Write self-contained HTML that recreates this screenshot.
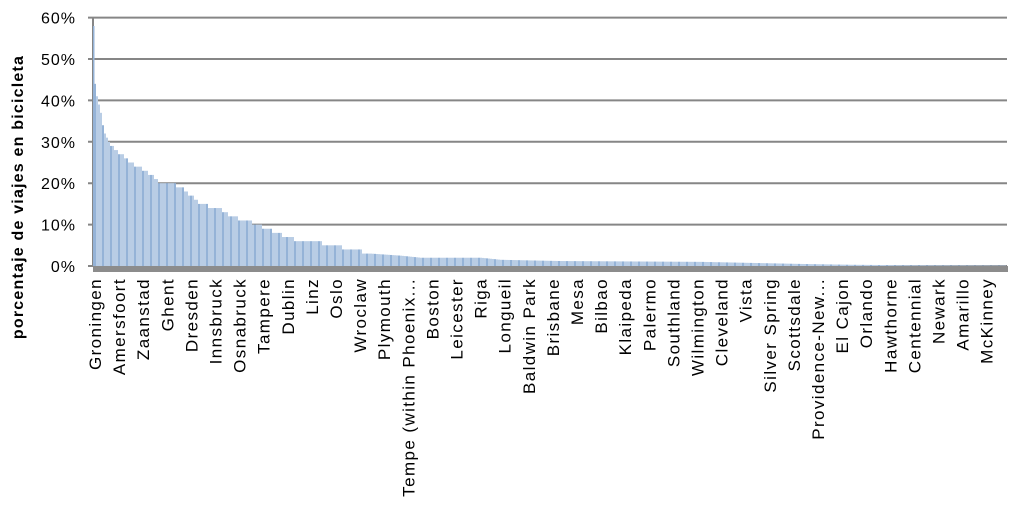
<!DOCTYPE html>
<html><head><meta charset="utf-8"><style>
body{margin:0;background:#fff}
svg text{font-family:"Liberation Sans",sans-serif;fill:#000}
</style></head><body>
<svg id="c" width="1009" height="513" xmlns="http://www.w3.org/2000/svg">
<g id="grid" stroke="#868686" stroke-width="2"></g>
<g id="bars"></g>
<rect x="93" y="266" width="915" height="6" fill="#8c8c8c"/>
<line x1="93" y1="18" x2="93" y2="266" stroke="#868686" stroke-width="2"/>
<rect x="93" y="26" width="1.5" height="240" fill="#95b3d7"/>
<g id="yl" font-size="16" letter-spacing="1" text-anchor="end"></g>
<g id="xl" font-size="17" letter-spacing="1.4" text-anchor="end"></g>
<text transform="translate(23,197) rotate(-90)" font-size="16" letter-spacing="1.2" font-weight="bold" text-anchor="middle">porcentaje de viajes en bicicleta</text>
</svg>
<script>
var ns="http://www.w3.org/2000/svg";
function el(t,a,p,txt){var e=document.createElementNS(ns,t);for(var k in a)e.setAttribute(k,a[k]);if(txt)e.textContent=txt;document.getElementById(p).appendChild(e);}
for(var i=0;i<=6;i++){var y=266-i*41.4;el("line",{x1:88,y1:y,x2:1007,y2:y},"grid");el("text",{x:76,y:y+6},"yl",(i*10)+"%");}
var pts=[[93,58],[94,44],[97,40],[100,37],[103,33],[108,30],[115,28],[125,26],[130,25],[145,23],[160,20],[170,20],[180,19],[190,17],[200,15],[215,14],[225,13],[230,12],[245,11],[255,10],[265,9],[275,8],[285,7],[300,6],[320,5.5],[340,4.5],[360,3.5],[370,3],[400,2.5],[420,2],[480,2],[500,1.5],[560,1.2],[700,1],[760,0.7],[800,0.5],[850,0.3],[900,0.2],[1007,0.1]];
function v(x){for(var i=1;i<pts.length;i++){if(x<=pts[i][0]){var a=pts[i-1],b=pts[i];return a[1]+(b[1]-a[1])*(x-a[0])/(b[0]-a[0]);}}return 0.1;}
for(var x=94,n=0;x<1006;x+=2,n++){var val=v(x);if(val>3)val=Math.round(val);var h=val*4.14;el("rect",{x:x,y:266-h,width:2,height:h,fill:(n%4==0?"#95b3d7":"#b9cde5")},"bars");}
var L=["Groningen","Amersfoort","Zaanstad","Ghent","Dresden","Innsbruck","Osnabruck","Tampere","Dublin","Linz","Oslo","Wroclaw","Plymouth","Tempe (within Phoenix...","Boston","Leicester","Riga","Longueil","Baldwin Park","Brisbane","Mesa","Bilbao","Klaipeda","Palermo","Southland","Wilmington","Cleveland","Vista","Silver Spring","Scottsdale","Providence-New...","El Cajon","Orlando","Hawthorne","Centennial","Newark","Amarillo","McKinney"];
L.forEach(function(s,i){var x=101+i*24.1;el("text",{transform:"translate("+x+",278) rotate(-90)"},"xl",s);});
</script>
</body></html>
